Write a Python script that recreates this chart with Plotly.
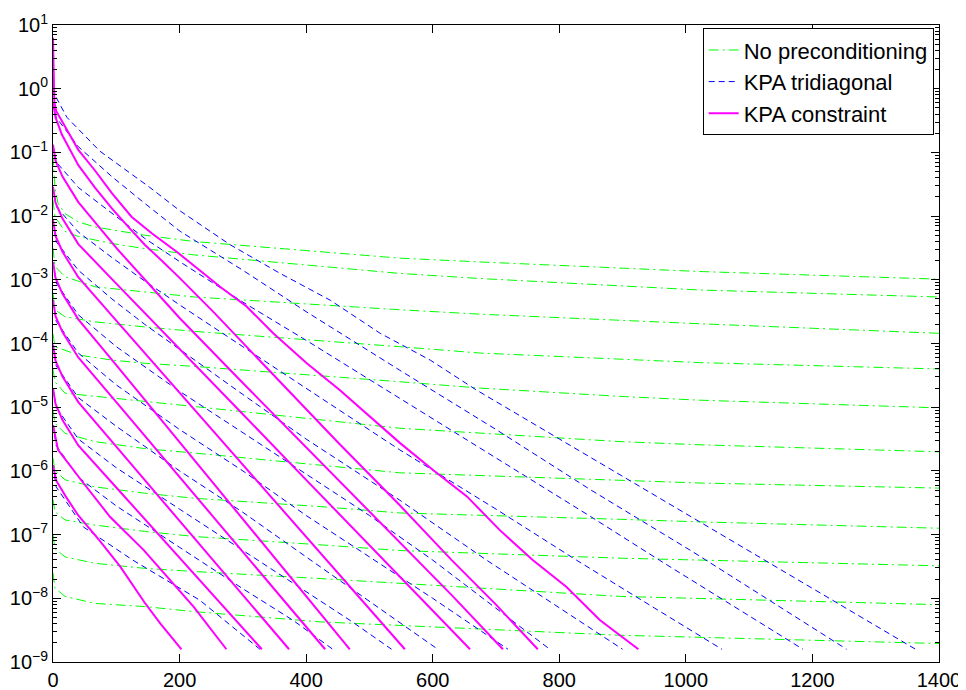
import plotly.graph_objects as go

# ---- data: iteration number and log10(residual) ----
# No preconditioning (green dash-dot)
g1_x = [0, 3, 8, 19, 40, 66, 145, 224, 548, 675, 1022, 1400]
g1_y = [-1.05, -1.55, -1.80, -1.96, -2.09, -2.17, -2.30, -2.40, -2.66, -2.72, -2.87, -2.99]
g2_x = [0, 3, 19, 40, 93, 145, 224, 548, 675, 1022, 1400]
g2_y = [-1.75, -2.01, -2.24, -2.32, -2.43, -2.51, -2.61, -2.90, -2.98, -3.16, -3.27]
g3_x = [0, 3, 19, 66, 145, 224, 548, 675, 1022, 1400]
g3_y = [-2.50, -2.79, -2.95, -3.11, -3.19, -3.27, -3.47, -3.54, -3.69, -3.84]
g4_x = [0, 3, 19, 66, 145, 224, 548, 675, 1022, 1400]
g4_y = [-3.20, -3.47, -3.58, -3.66, -3.74, -3.81, -4.05, -4.15, -4.30, -4.40]
g5_x = [0, 3, 40, 93, 145, 224, 548, 675, 896, 1022, 1400]
g5_y = [-3.85, -4.05, -4.18, -4.26, -4.31, -4.36, -4.60, -4.70, -4.83, -4.89, -5.01]
g6_x = [0, 3, 19, 66, 145, 224, 548, 896, 1022, 1400]
g6_y = [-4.40, -4.60, -4.78, -4.83, -4.91, -4.99, -5.33, -5.54, -5.59, -5.70]
g7_x = [0, 3, 19, 66, 145, 224, 548, 896, 1022, 1400]
g7_y = [-5.05, -5.25, -5.41, -5.54, -5.65, -5.72, -6.03, -6.14, -6.19, -6.27]
g8_x = [0, 3, 19, 66, 145, 224, 422, 548, 896, 1022, 1400]
g8_y = [-5.80, -5.99, -6.14, -6.25, -6.35, -6.43, -6.56, -6.66, -6.76, -6.80, -6.90]
g9_x = [0, 3, 19, 66, 145, 224, 422, 548, 896, 1022, 1400]
g9_y = [-6.45, -6.64, -6.77, -6.85, -6.95, -7.03, -7.16, -7.25, -7.37, -7.40, -7.49]
g10_x = [0, 3, 19, 66, 145, 224, 422, 896, 1400]
g10_y = [-7.00, -7.22, -7.35, -7.45, -7.53, -7.58, -7.69, -7.97, -8.10]
g11_x = [0, 3, 19, 66, 145, 224, 422, 896, 1400]
g11_y = [-7.60, -7.84, -7.97, -8.08, -8.13, -8.21, -8.37, -8.58, -8.71]

# KPA tridiagonal (blue dashed)
b1_x = [0, 1, 3, 22, 74, 153, 201, 280, 359, 438, 517, 596, 669, 800, 1017, 1200, 1363]
b1_y = [0.80, 0.10, -0.10, -0.45, -0.98, -1.55, -1.92, -2.45, -2.90, -3.32, -3.84, -4.26, -4.73, -5.50, -6.77, -7.85, -8.80]
b2_x = [0, 5, 40, 93, 145, 201, 300, 400, 548, 700, 850, 1011, 1254]
b2_y = [-0.22, -0.45, -0.91, -1.38, -1.80, -2.24, -2.85, -3.50, -4.42, -5.35, -6.30, -7.27, -8.80]
b3_x = [0, 5, 40, 93, 145, 201, 300, 400, 548, 700, 850, 958, 1185]
b3_y = [-0.88, -1.15, -1.55, -1.95, -2.35, -2.72, -3.35, -3.95, -4.86, -5.80, -6.72, -7.40, -8.80]
b4_x = [0, 5, 40, 93, 145, 201, 300, 400, 548, 700, 827, 950, 1057]
b4_y = [-1.54, -1.85, -2.25, -2.65, -3.02, -3.40, -4.05, -4.70, -5.67, -6.60, -7.40, -8.15, -8.80]
b5_x = [0, 5, 40, 93, 145, 201, 300, 400, 548, 685, 800, 900]
b5_y = [-2.06, -2.40, -2.85, -3.30, -3.70, -4.10, -4.80, -5.50, -6.46, -7.40, -8.15, -8.80]
b6_x = [0, 5, 40, 100, 200, 300, 400, 500, 600, 700, 785]
b6_y = [-2.72, -3.05, -3.55, -4.05, -4.75, -5.40, -6.05, -6.70, -7.40, -8.15, -8.80]
b7_x = [0, 5, 40, 100, 200, 300, 400, 500, 600, 719]
b7_y = [-3.32, -3.65, -4.15, -4.65, -5.35, -6.00, -6.70, -7.35, -8.00, -8.80]
b8_x = [0, 5, 40, 100, 200, 300, 400, 500, 608]
b8_y = [-4.02, -4.35, -4.85, -5.30, -6.00, -6.65, -7.35, -8.05, -8.80]
b9_x = [0, 5, 40, 100, 200, 300, 400, 470, 535]
b9_y = [-4.70, -5.00, -5.50, -5.95, -6.60, -7.25, -7.90, -8.35, -8.80]
b10_x = [0, 5, 40, 100, 200, 300, 380, 442]
b10_y = [-5.28, -5.60, -6.10, -6.55, -7.20, -7.85, -8.35, -8.80]
b11_x = [0, 5, 48, 126, 232, 327]
b11_y = [-5.91, -6.25, -6.88, -7.40, -8.03, -8.80]

# KPA constraint (magenta solid)
m1_x = [0, 1, 2, 5, 19, 40, 66, 93, 124, 156, 198, 232, 264, 306, 348, 401, 453, 548, 601, 654, 706, 758, 811, 864, 925]
m1_y = [0.80, 0.30, -0.20, -0.35, -0.60, -0.96, -1.28, -1.64, -2.01, -2.27, -2.58, -2.85, -3.11, -3.42, -3.84, -4.31, -4.73, -5.56, -5.99, -6.40, -6.93, -7.40, -7.82, -8.34, -8.80]
m2_x = [0, 4, 14, 40, 66, 93, 119, 145, 172, 200, 253, 306, 353, 450, 548, 630, 700, 766]
m2_y = [-0.22, -0.45, -0.72, -1.20, -1.55, -1.88, -2.17, -2.45, -2.70, -2.97, -3.50, -4.05, -4.55, -5.55, -6.54, -7.40, -8.10, -8.80]
m3_x = [0, 4, 15, 40, 100, 200, 300, 400, 548, 630, 711]
m3_y = [-0.88, -1.13, -1.38, -1.78, -2.50, -3.60, -4.62, -5.63, -7.12, -7.95, -8.80]
m4_x = [0, 4, 15, 40, 100, 200, 300, 400, 500, 580, 659]
m4_y = [-1.54, -1.79, -2.04, -2.44, -3.06, -4.08, -5.11, -6.14, -7.17, -7.99, -8.80]
m5_x = [0, 4, 15, 40, 100, 200, 300, 400, 480, 556]
m5_y = [-2.06, -2.31, -2.56, -2.96, -3.64, -4.77, -5.90, -7.03, -7.94, -8.80]
m6_x = [0, 4, 15, 40, 100, 200, 300, 400, 469]
m6_y = [-2.72, -2.97, -3.22, -3.62, -4.34, -5.55, -6.76, -7.97, -8.80]
m7_x = [0, 4, 15, 40, 100, 200, 300, 380, 430]
m7_y = [-3.32, -3.57, -3.82, -4.22, -4.92, -6.10, -7.27, -8.21, -8.80]
m8_x = [0, 4, 15, 40, 100, 200, 300, 373]
m8_y = [-4.02, -4.27, -4.52, -4.92, -5.62, -6.78, -7.95, -8.80]
m9_x = [0, 4, 15, 40, 100, 200, 270, 330]
m9_y = [-4.70, -4.95, -5.20, -5.60, -6.26, -7.37, -8.14, -8.80]
m10_x = [0, 4, 8, 48, 90, 143, 180, 222, 274]
m10_y = [-5.28, -5.50, -5.67, -6.19, -6.72, -7.24, -7.66, -8.13, -8.80]
m11_x = [0, 5, 20, 40, 74, 106, 145, 170, 203]
m11_y = [-5.91, -6.15, -6.40, -6.70, -7.10, -7.50, -8.07, -8.40, -8.80]

x_ticks = [0, 200, 400, 600, 800, 1000, 1200, 1400]
y_exponents = [1, 0, -1, -2, -3, -4, -5, -6, -7, -8, -9]
minor_mantissas = [2, 3, 4, 5, 6, 7, 8, 9]

green_series = [(g1_x, g1_y), (g2_x, g2_y), (g3_x, g3_y), (g4_x, g4_y), (g5_x, g5_y), (g6_x, g6_y),
                (g7_x, g7_y), (g8_x, g8_y), (g9_x, g9_y), (g10_x, g10_y), (g11_x, g11_y)]
blue_series = [(b1_x, b1_y), (b2_x, b2_y), (b3_x, b3_y), (b4_x, b4_y), (b5_x, b5_y), (b6_x, b6_y),
               (b7_x, b7_y), (b8_x, b8_y), (b9_x, b9_y), (b10_x, b10_y), (b11_x, b11_y)]
magenta_series = [(m1_x, m1_y), (m2_x, m2_y), (m3_x, m3_y), (m4_x, m4_y), (m5_x, m5_y), (m6_x, m6_y),
                  (m7_x, m7_y), (m8_x, m8_y), (m9_x, m9_y), (m10_x, m10_y), (m11_x, m11_y)]

groups = [
    ("No preconditioning", green_series, dict(color="#00ff00", width=1, dash="10px,4px,2px,4px")),
    ("KPA tridiagonal", blue_series, dict(color="#0000ff", width=1, dash="6px,4px")),
    ("KPA constraint", magenta_series, dict(color="#ff00ff", width=2)),
]

fig = go.Figure()
for name, series, line in groups:
    for i, (xs, ly) in enumerate(series):
        fig.add_trace(go.Scatter(
            x=xs, y=[10 ** v for v in ly], mode="lines", name=name,
            legendgroup=name, showlegend=(i == 0), line=line, hoverinfo="skip"))

font_family = "Liberation Sans, Arial, sans-serif"

# the page body adds an 8 px margin, so the figure is sized to fit inside the window
fig.update_layout(
    width=958, height=682,
    margin=dict(l=45, r=27, t=17, b=28),
    paper_bgcolor="white", plot_bgcolor="white",
    font=dict(family=font_family, size=20, color="black"),
    legend=dict(x=0.994, y=0.995, xanchor="right", yanchor="top",
                bgcolor="white", bordercolor="black", borderwidth=1,
                font=dict(size=22, family=font_family), tracegroupgap=0,
                itemwidth=30),
)
fig.update_xaxes(
    range=[0, 1400], tickvals=x_ticks, ticktext=[str(v) for v in x_ticks],
    ticks="inside", ticklen=8, tickcolor="black", showline=True, linecolor="black",
    linewidth=1, mirror="ticks", showgrid=False, zeroline=False, automargin=False,
    ticklabeloverflow="allow",
    tickfont=dict(size=20, family=font_family),
)
fig.update_yaxes(
    type="log", range=[-9, 1],
    tickvals=[10 ** e for e in y_exponents],
    ticktext=["10<sup>%s</sup>" % (str(e).replace("-", "\u2212")) for e in y_exponents],
    ticks="inside", ticklen=8, tickcolor="black", showline=True, linecolor="black",
    linewidth=1, mirror="ticks", showgrid=False, zeroline=False, automargin=False,
    ticklabeloverflow="allow",
    tickfont=dict(size=20, family=font_family),
    minor=dict(tickmode="array",
               tickvals=[m * 10 ** e for e in y_exponents[1:] for m in minor_mantissas],
               ticks="inside", ticklen=4, tickcolor="black", showgrid=False),
)

fig.write_html("out.html")
